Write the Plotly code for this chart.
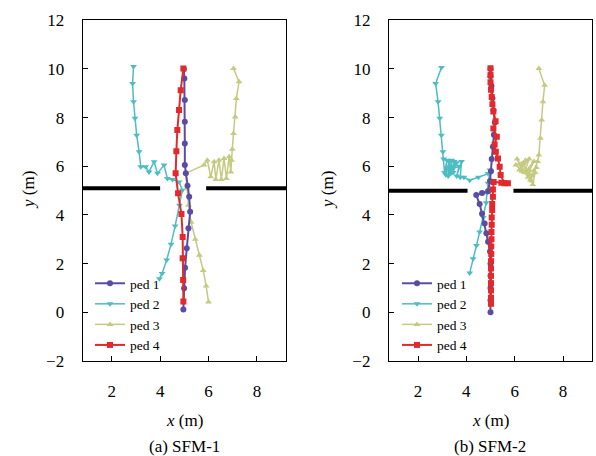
import plotly.graph_objects as go

# ---------------- data (m) ----------------
# (a) SFM-1
a_p1_x = [4.96, 4.99, 5.03, 5.10, 5.17, 5.24, 5.20, 5.13, 5.06, 5.02, 5.02, 5.02, 5.02, 5.00, 4.98]
a_p1_y = [0.12, 0.99, 1.83, 2.63, 3.45, 4.13, 4.75, 5.20, 5.71, 6.05, 6.94, 7.83, 8.72, 9.61, 10.00]
a_p2_x = [2.90, 2.86, 2.90, 2.96, 3.03, 3.13, 3.20, 3.40, 3.54, 3.75, 3.89, 4.16, 4.30, 4.51, 4.78,
          4.92, 4.80, 4.62, 4.45, 4.27, 4.08, 3.97]
a_p2_y = [10.10, 9.40, 8.65, 7.97, 7.28, 6.60, 5.98, 5.98, 5.77, 6.19, 5.71, 6.05, 5.50, 5.46, 5.36,
          5.02, 4.40, 3.55, 2.80, 2.15, 1.60, 1.38]
a_p3_x = [7.03, 7.26, 7.15, 7.10, 7.03, 6.98, 6.95, 6.92, 6.85, 6.74, 6.64, 6.53, 6.43, 6.30, 6.23,
          6.09, 5.95, 5.81, 5.06, 5.10, 5.17, 5.28, 5.45, 5.62, 5.78, 5.90, 6.00]
a_p3_y = [10.02, 9.47, 8.79, 8.03, 7.35, 6.70, 6.25, 5.77, 6.39, 5.50, 6.32, 5.46, 6.25, 5.46, 6.19,
          5.57, 6.25, 6.05, 5.72, 5.10, 4.40, 3.70, 3.00, 2.35, 1.72, 1.08, 0.42]
a_p4_x = [4.96, 4.85, 4.78, 4.71, 4.67, 4.64, 4.74, 4.88, 4.93, 4.93, 4.95, 4.96]
a_p4_y = [10.02, 9.13, 8.31, 7.49, 6.62, 5.71, 4.89, 4.04, 3.10, 2.22, 1.33, 0.44]
a_wall_x = [0.8, 4.0, None, 5.9, 9.2]
a_wall_y = [5.1, 5.1, None, 5.1, 5.1]

# (b) SFM-2
b_p1_x = [5.00, 5.00, 5.00, 5.00, 5.00, 4.98, 4.90, 4.83, 4.76, 4.65, 4.55, 4.41, 4.65, 4.90, 4.98,
          5.02, 5.05, 5.10, 5.14, 5.18, 5.12, 5.08, 5.04, 5.00, 5.00]
b_p1_y = [0.00, 0.50, 1.00, 1.50, 2.00, 2.50, 2.90, 3.25, 3.65, 4.05, 4.45, 4.82, 4.90, 4.98, 5.40,
          5.80, 6.30, 6.80, 7.30, 7.80, 8.30, 8.80, 9.30, 9.70, 10.00]
b_p2_x = [2.97, 2.73, 2.83, 2.90, 2.97, 3.03, 3.06, 3.10, 3.20, 3.15, 3.30, 3.25, 3.40, 3.35, 3.50,
          3.45, 3.60, 3.30, 3.70, 3.60, 3.80, 3.75, 3.90, 4.14, 4.50, 4.90, 4.98, 4.90, 4.85, 4.82,
          4.70, 4.55, 4.42, 4.28, 4.14]
b_p2_y = [10.06, 9.40, 8.65, 7.97, 7.28, 6.60, 6.30, 5.75, 6.25, 5.65, 6.20, 5.60, 6.25, 5.70, 6.20,
          5.75, 6.15, 5.85, 6.00, 5.60, 6.20, 5.55, 5.55, 5.43, 5.55, 5.70, 5.85, 5.30, 4.90, 4.50,
          3.90, 3.30, 2.75, 2.20, 1.62]
b_p3_x = [7.00, 7.24, 7.17, 7.12, 7.07, 7.00, 6.95, 6.70, 6.90, 6.55, 6.80, 6.40, 6.60, 6.20, 6.45,
          6.05, 6.30, 6.10, 6.55, 6.35, 6.70, 6.60, 6.75, 6.85, 6.65]
b_p3_y = [10.02, 9.33, 8.65, 7.90, 7.15, 6.46, 6.20, 5.60, 5.95, 5.70, 6.20, 5.75, 6.30, 5.85, 6.25,
          6.05, 5.80, 6.30, 5.55, 6.10, 5.40, 5.85, 5.25, 5.75, 5.45]
b_p4_x = [5.00, 5.00, 5.00, 5.02, 5.05, 5.08, 5.12, 5.21, 5.12, 5.26, 5.17, 5.22, 5.31, 5.38, 5.42,
          5.58, 5.72, 5.45, 5.13, 5.10, 5.10, 5.07, 5.07, 5.05, 5.05, 5.04, 5.04, 5.03, 5.03, 5.02,
          5.02, 5.02, 5.02, 5.02, 5.02, 5.02]
b_p4_y = [10.03, 9.75, 9.45, 9.15, 8.85, 8.55, 8.25, 7.85, 7.55, 7.21, 6.90, 6.60, 6.32, 5.98, 5.64,
          5.30, 5.30, 5.32, 5.36, 5.05, 4.75, 4.45, 4.20, 3.90, 3.60, 3.30, 3.00, 2.70, 2.40, 2.10,
          1.80, 1.50, 1.20, 0.90, 0.60, 0.35]
b_wall_x = [0.8, 4.05, None, 5.95, 9.2]
b_wall_y = [5.0, 5.0, None, 5.0, 5.0]

names = ["ped 1", "ped 2", "ped 3", "ped 4"]
x_ticks = [2, 4, 6, 8]
y_ticks = [-2, 0, 2, 4, 6, 8, 10, 12]
x_range = [0.8, 9.2]
y_range = [-2, 12]
panel_titles = ["(a) SFM-1", "(b) SFM-2"]

# ---------------- styling ----------------
colors = ["#584da3", "#4dbdc3", "#c4ca80", "#e3292b"]
symbols = ["circle", "triangle-down", "triangle-up", "square"]
widths = [2, 1.5, 1.5, 2]
msizes = [6, 6, 6, 6]
FONT = "Liberation Serif"

fig = go.Figure()

panels = [
    (a_wall_x, a_wall_y, [(a_p1_x, a_p1_y), (a_p2_x, a_p2_y), (a_p3_x, a_p3_y), (a_p4_x, a_p4_y)], "x", "y", "legend"),
    (b_wall_x, b_wall_y, [(b_p1_x, b_p1_y), (b_p2_x, b_p2_y), (b_p3_x, b_p3_y), (b_p4_x, b_p4_y)], "x2", "y2", "legend2"),
]
draw_order = [1, 2, 0, 3]
for wx, wy, series, xa, ya, lg in panels:
    fig.add_trace(go.Scatter(x=wx, y=wy, mode="lines", line=dict(color="black", width=4),
                             showlegend=False, xaxis=xa, yaxis=ya, hoverinfo="skip"))
    for i in draw_order:
        sx, sy = series[i]
        fig.add_trace(go.Scatter(
            x=sx, y=sy, mode="lines+markers", name=names[i],
            line=dict(color=colors[i], width=widths[i]),
            marker=dict(symbol=symbols[i], size=msizes[i], color=colors[i]),
            xaxis=xa, yaxis=ya, legend=lg, legendrank=i + 1))

axis_common = dict(showline=True, linecolor="black", linewidth=1.3, mirror=True,
                   ticks="inside", ticklen=5, tickwidth=1.2, tickcolor="black",
                   showgrid=False, zeroline=False, automargin=False,
                   tickfont=dict(family=FONT, size=17, color="black"),
                   ticklabelstandoff=14)

W, H = 596, 456
xd1 = [82.7 / W, 286 / W]
xd2 = [389 / W, 592 / W]
yd = [(H - 361) / H, (H - 20.3) / H]

legend_common = dict(xanchor="left", yanchor="top", bgcolor="rgba(0,0,0,0)",
                     font=dict(family=FONT, size=13.5, color="black"),
                     tracegroupgap=0, itemwidth=30)

fig.update_layout(
    width=W, height=H, margin=dict(l=0, r=0, t=0, b=0, autoexpand=False),
    paper_bgcolor="white", plot_bgcolor="white",
    font=dict(family=FONT, size=16, color="black"),
    xaxis=dict(domain=xd1, range=x_range, tickvals=x_ticks, anchor="y", **axis_common),
    yaxis=dict(domain=yd, range=y_range, tickvals=y_ticks, anchor="x", **axis_common),
    xaxis2=dict(domain=xd2, range=x_range, tickvals=x_ticks, anchor="y2", **axis_common),
    yaxis2=dict(domain=yd, range=y_range, tickvals=y_ticks, anchor="x2", **axis_common),
    legend=dict(x=90 / W, y=(H - 268) / H, **legend_common),
    legend2=dict(x=397 / W, y=(H - 268) / H, **legend_common),
    showlegend=True,
)

ann = []
for (cx, ttl) in [(184 / W, panel_titles[0]), (490 / W, panel_titles[1])]:
    ann.append(dict(x=cx, y=(H - 420) / H, xref="paper", yref="paper", text="<i>x</i> (m)",
                    xanchor="center", yanchor="middle",
                    showarrow=False, font=dict(family=FONT, size=17, color="black")))
    ann.append(dict(x=cx, y=(H - 446) / H, xref="paper", yref="paper", text=ttl,
                    xanchor="center", yanchor="middle",
                    showarrow=False, font=dict(family=FONT, size=17, color="black")))
for yx in [29 / W, 328 / W]:
    ann.append(dict(x=yx, y=(H - 190) / H, xref="paper", yref="paper", text="<i>y</i> (m)",
                    xanchor="center", yanchor="middle",
                    textangle=-90, showarrow=False, font=dict(family=FONT, size=17, color="black")))
fig.update_layout(annotations=ann)

fig.write_html("out.html", config={"displayModeBar": False},
               post_script="document.body.style.margin='0';")
